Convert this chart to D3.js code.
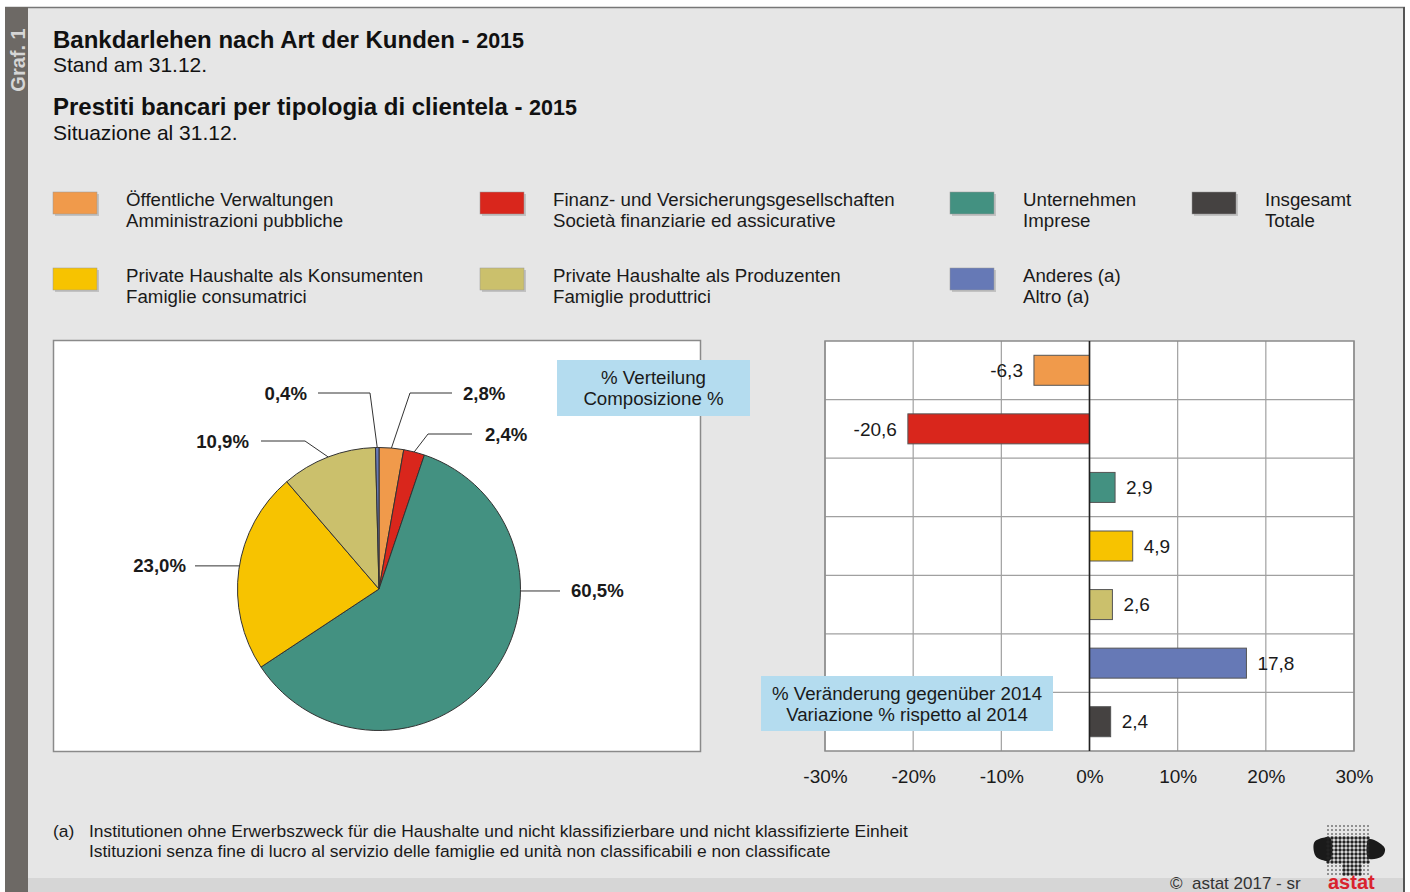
<!DOCTYPE html>
<html>
<head>
<meta charset="utf-8">
<script src="https://cdn.jsdelivr.net/npm/d3@7"></script>
<style>
  body { margin: 0; background: #fff; }
  svg { display: block; font-family: "Liberation Sans", Arial, sans-serif; }
</style>
</head>
<body>
<div id="chart"></div>
<script>
// data
var categoriesDe = ["Öffentliche Verwaltungen", "Finanz- und Versicherungsgesellschaften", "Unternehmen",
    "Private Haushalte als Konsumenten", "Private Haushalte als Produzenten", "Anderes (a)", "Insgesamt"];
var categoriesIt = ["Amministrazioni pubbliche", "Società finanziarie ed assicurative", "Imprese",
    "Famiglie consumatrici", "Famiglie produttrici", "Altro (a)", "Totale"];
var colors = ["#f09a4b", "#d9261c", "#439181", "#f7c300", "#cbc06c", "#6679b6", "#454241"];
var shareValues = [2.8, 2.4, 60.5, 23.0, 10.9, 0.4];          // pie, % Verteilung
var changeValues = [-6.3, -20.6, 2.9, 4.9, 2.6, 17.8, 2.4];   // bars, % Veränderung
var xTicks = [-30, -20, -10, 0, 10, 20, 30];

var width = 1410, height = 892;
var fmt = function (v) { return v.toFixed(1).replace(".", ","); };

var svg = d3.select("#chart").append("svg")
    .attr("width", width)
    .attr("height", height);

// background frame
svg.append("rect").attr("x", 5).attr("y", 7).attr("width", 1400).attr("height", 885).attr("fill", "#e6e6e6");
svg.append("rect").attr("x", 28).attr("y", 878).attr("width", 1376).attr("height", 14).attr("fill", "#d6d6d6");
svg.append("line").attr("x1", 5).attr("x2", 1405).attr("y1", 7.5).attr("y2", 7.5).attr("stroke", "#777").attr("stroke-width", 1.5);
svg.append("line").attr("x1", 1404).attr("x2", 1404).attr("y1", 7).attr("y2", 892).attr("stroke", "#555").attr("stroke-width", 2);
svg.append("rect").attr("x", 5).attr("y", 7).attr("width", 23).attr("height", 885).attr("fill", "#6d6965");
svg.append("text")
    .attr("transform", "translate(25,60) rotate(-90)")
    .attr("text-anchor", "middle")
    .attr("font-size", 20).attr("font-weight", "bold").attr("fill", "#d6d6d6")
    .text("Graf. 1");

// titles
var t1 = svg.append("text").attr("x", 53).attr("y", 48).attr("font-size", 24).attr("font-weight", "bold").attr("fill", "#111");
t1.append("tspan").text("Bankdarlehen nach Art der Kunden - ");
t1.append("tspan").attr("font-size", 21.5).text("2015");
svg.append("text").attr("x", 53).attr("y", 72).attr("font-size", 21).attr("fill", "#111").text("Stand am 31.12.");
var t2 = svg.append("text").attr("x", 53).attr("y", 115).attr("font-size", 24).attr("font-weight", "bold").attr("fill", "#111");
t2.append("tspan").text("Prestiti bancari per tipologia di clientela - ");
t2.append("tspan").attr("font-size", 21.5).text("2015");
svg.append("text").attr("x", 53).attr("y", 140).attr("font-size", 21).attr("fill", "#111").text("Situazione al 31.12.");

// legend
var legendCols = [53, 480, 950, 1192];
var legendRows = [192, 268];
var legendSlots = [[0, 0], [1, 0], [2, 0], [0, 1], [1, 1], [2, 1], [3, 0]];
var legend = svg.append("g").selectAll("g")
    .data(categoriesDe)
    .enter().append("g")
    .attr("transform", function (d, i) {
        return "translate(" + legendCols[legendSlots[i][0]] + "," + legendRows[legendSlots[i][1]] + ")";
    });
legend.append("rect").attr("x", 2).attr("y", 2).attr("width", 44).attr("height", 22).attr("fill", "#aaa").attr("opacity", 0.6);
legend.append("rect").attr("width", 44).attr("height", 22)
    .attr("fill", function (d, i) { return colors[i]; })
    .attr("stroke", "#999").attr("stroke-width", 0.5);
legend.append("text").attr("x", 73).attr("y", 13.5).attr("font-size", 18.7).attr("fill", "#1a1a1a").text(function (d) { return d; });
legend.append("text").attr("x", 73).attr("y", 34.5).attr("font-size", 18.7).attr("fill", "#1a1a1a").text(function (d, i) { return categoriesIt[i]; });

// pie panel
svg.append("rect").attr("x", 53.5).attr("y", 340.5).attr("width", 647).attr("height", 411)
    .attr("fill", "#fff").attr("stroke", "#8a8a8a").attr("stroke-width", 1.5);

var cx = 379, cy = 589, r = 141.5;
var pie = d3.pie().sort(null).value(function (d) { return d; });
var arcs = pie(shareValues);
var arc = d3.arc().innerRadius(0).outerRadius(r);
var pieG = svg.append("g").attr("transform", "translate(" + cx + "," + cy + ")");
pieG.selectAll("path")
    .data(arcs)
    .enter().append("path")
    .attr("d", arc)
    .attr("fill", function (d, i) { return colors[i]; })
    .attr("stroke", "#333").attr("stroke-width", 1);

// leader line layout: edge angle (null = slice mid), elbow, line end, text x
var leaders = [
    { ang: null, ex: 410, ey: 393, lx: 452, tx: 463, anchor: "start" },
    { ang: null, ex: 428, ey: 434, lx: 472, tx: 485, anchor: "start" },
    { ang: 90.8, ex: null, ey: null, lx: 560, tx: 571, anchor: "start" },
    { ang: 279.4, ex: null, ey: null, lx: 195, tx: 186, anchor: "end" },
    { ang: null, ex: 305, ey: 441, lx: 261, tx: 249, anchor: "end" },
    { ang: null, ex: 370, ey: 393, lx: 318, tx: 307, anchor: "end" }
];
arcs.forEach(function (a, i) {
    var L = leaders[i];
    var ang = L.ang === null ? (a.startAngle + a.endAngle) / 2 : L.ang * Math.PI / 180;
    var px = cx + r * Math.sin(ang), py = cy - r * Math.cos(ang);
    var pts = [[px, py]];
    var ly = py;
    if (L.ex !== null) { pts.push([L.ex, L.ey]); ly = L.ey; }
    pts.push([L.lx, ly]);
    svg.append("path").attr("d", d3.line()(pts)).attr("fill", "none").attr("stroke", "#333").attr("stroke-width", 1);
    svg.append("text").attr("x", L.tx).attr("y", ly).attr("dy", "0.35em")
        .attr("text-anchor", L.anchor).attr("font-size", 18.6).attr("font-weight", "bold").attr("fill", "#1a1a1a")
        .text(fmt(shareValues[i]) + "%");
});

// callout boxes
function callout(x, y, w, h, lines) {
    svg.append("rect").attr("x", x).attr("y", y).attr("width", w).attr("height", h).attr("fill", "#b4dcef");
    lines.forEach(function (s, k) {
        svg.append("text").attr("x", x + w / 2).attr("y", y + 17 + k * 21).attr("dy", "0.35em")
            .attr("text-anchor", "middle").attr("font-size", 18.7).attr("fill", "#1a1a1a").text(s);
    });
}
callout(557, 360, 193, 56, ["% Verteilung", "Composizione %"]);

// bar panel
var x = d3.scaleLinear().domain([-30, 30]).range([825, 1354]);
var y = d3.scaleBand().domain(d3.range(changeValues.length)).range([341, 751]);
var barH = 30;

var barG = svg.append("g");
barG.append("rect").attr("x", x(-30)).attr("y", 341).attr("width", x(30) - x(-30)).attr("height", 410).attr("fill", "#fff");
barG.selectAll(".vgrid")
    .data(xTicks)
    .enter().append("line")
    .attr("x1", function (d) { return x(d); }).attr("x2", function (d) { return x(d); })
    .attr("y1", 341).attr("y2", 751)
    .attr("stroke", "#a0a0a0").attr("stroke-width", 1.2);
barG.selectAll(".hgrid")
    .data(d3.range(1, changeValues.length))
    .enter().append("line")
    .attr("x1", x(-30)).attr("x2", x(30))
    .attr("y1", function (d) { return y(d); }).attr("y2", function (d) { return y(d); })
    .attr("stroke", "#a0a0a0").attr("stroke-width", 1.2);
barG.append("rect").attr("x", x(-30)).attr("y", 341).attr("width", x(30) - x(-30)).attr("height", 410)
    .attr("fill", "none").attr("stroke", "#8a8a8a").attr("stroke-width", 1.5);

barG.selectAll(".bar")
    .data(changeValues)
    .enter().append("rect")
    .attr("x", function (d) { return x(Math.min(0, d)); })
    .attr("y", function (d, i) { return y(i) + (y.bandwidth() - barH) / 2; })
    .attr("width", function (d) { return Math.abs(x(d) - x(0)); })
    .attr("height", barH)
    .attr("fill", function (d, i) { return colors[i]; })
    .attr("stroke", "#555").attr("stroke-width", 1);

barG.append("line").attr("x1", x(0)).attr("x2", x(0)).attr("y1", 341).attr("y2", 751)
    .attr("stroke", "#222").attr("stroke-width", 1.6);

barG.selectAll(".val")
    .data(changeValues)
    .enter().append("text")
    .attr("x", function (d) { return d < 0 ? x(d) - 11 : x(d) + 11; })
    .attr("y", function (d, i) { return y(i) + y.bandwidth() / 2; })
    .attr("dy", "0.35em")
    .attr("text-anchor", function (d) { return d < 0 ? "end" : "start"; })
    .attr("font-size", 19).attr("fill", "#1a1a1a")
    .text(fmt);

var xAxis = d3.axisBottom(x).tickValues(xTicks).tickSize(0).tickPadding(0)
    .tickFormat(function (d) { return d + "%"; });
var axG = svg.append("g").attr("transform", "translate(0,769)").call(xAxis);
axG.select(".domain").remove();
axG.selectAll("text").attr("font-size", 19).attr("fill", "#1a1a1a").attr("font-family", "Liberation Sans, Arial, sans-serif");

callout(761, 676, 292, 55, ["% Veränderung gegenüber 2014", "Variazione % rispetto al 2014"]);

// footnote
svg.append("text").attr("x", 53).attr("y", 837).attr("font-size", 17.4).attr("fill", "#1a1a1a").text("(a)");
svg.append("text").attr("x", 89).attr("y", 837).attr("font-size", 17.4).attr("fill", "#1a1a1a")
    .text("Institutionen ohne Erwerbszweck für die Haushalte und nicht klassifizierbare und nicht klassifizierte Einheit");
svg.append("text").attr("x", 89).attr("y", 857).attr("font-size", 17.4).attr("fill", "#1a1a1a")
    .text("Istituzioni senza fine di lucro al servizio delle famiglie ed unità non classificabili e non classificate");

// copyright + logo
svg.append("text").attr("x", 1170).attr("y", 889).attr("font-size", 17).attr("fill", "#333")
    .attr("xml:space", "preserve").text("©  astat 2017 - sr");
var logo = svg.append("g");
// solid side lobes of the map
var leftLobe = [[1314, 843], [1322, 838], [1331, 839], [1331, 859], [1322, 860], [1315, 855]];
var rightLobe = [[1368, 840], [1378, 842], [1385, 849], [1381, 857], [1368, 858]];
[leftLobe, rightLobe].forEach(function (p) {
    logo.append("path").attr("d", d3.line().curve(d3.curveCardinalClosed)(p)).attr("fill", "#1a1a1a");
});
// dotted core
for (var gx = 1328; gx <= 1371; gx += 4) {
    for (var gy = 826; gy <= 874; gy += 4) {
        var inner = gy >= 838 && gy <= 862 || (gy > 862 && gy <= 874 && gx >= 1343 && gx <= 1360);
        logo.append("circle").attr("cx", gx).attr("cy", gy).attr("r", inner ? 1.7 : 0.8).attr("fill", "#222");
    }
}
svg.append("text").attr("x", 1328).attr("y", 889).attr("font-size", 20).attr("font-weight", "bold").attr("fill", "#d9232d").text("astat");
</script>
</body>
</html>
